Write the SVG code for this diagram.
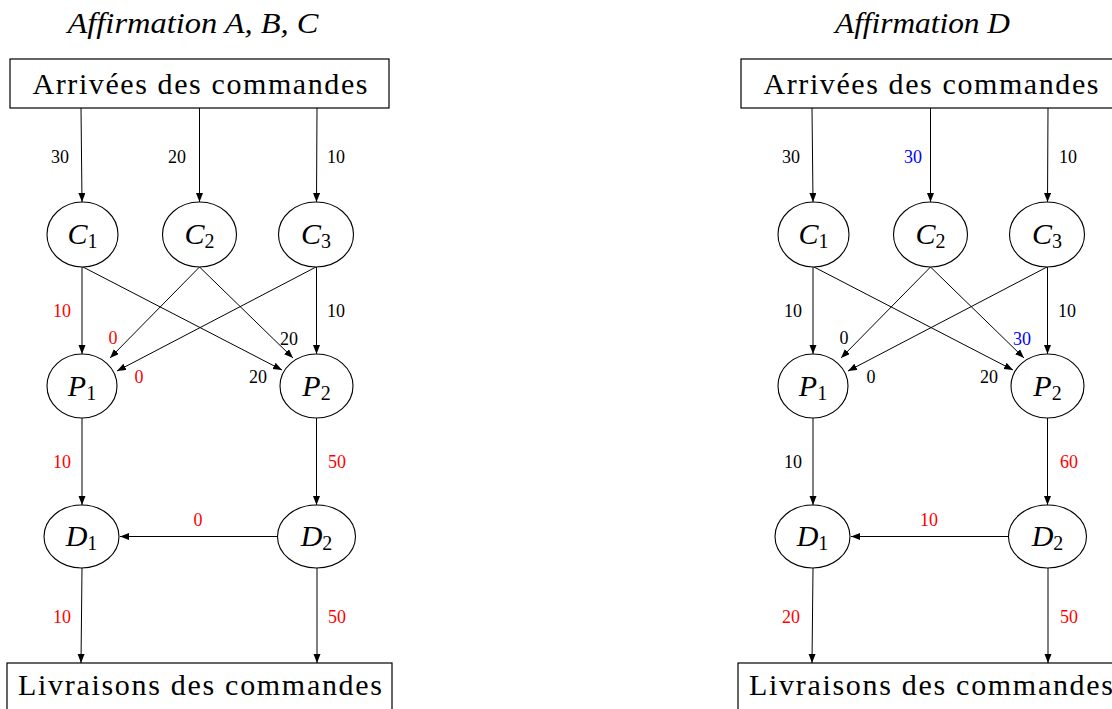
<svg xmlns="http://www.w3.org/2000/svg" width="1112" height="709" viewBox="0 0 1112 709">
<style>
.bg{fill:#fff}
.box{fill:#fff;stroke:#000;stroke-width:1.2}
.node{fill:#fff;stroke:#000;stroke-width:1.1}
.title{font-family:"Liberation Serif",serif;font-style:italic;font-size:30px;fill:#000;text-anchor:middle}
.btxt{font-family:"Liberation Serif",serif;font-size:30px;fill:#000;text-anchor:middle}
.ntxt{font-family:"Liberation Serif",serif;font-style:italic;font-size:30px;fill:#000;text-anchor:middle}
.sub{font-style:normal;font-size:20px}
.lbl{font-family:"Liberation Serif",serif;font-size:18px;fill:#000;text-anchor:middle}
.red{fill:#ff0000}
.blue{fill:#0000ff}
.edge line{stroke:#000;stroke-width:1;marker-end:url(#ah)}
</style>
<defs>
<marker id="ah" markerUnits="userSpaceOnUse" markerWidth="10" markerHeight="8" refX="9" refY="3.5" orient="auto">
<path d="M0,0 L9,3.5 L0,7 z" fill="#000"/>
</marker>
</defs>
<rect class="bg" x="0" y="0" width="1112" height="709"/>

<g id="left">
<text class="title" x="193" y="33" textLength="251" lengthAdjust="spacingAndGlyphs">Affirmation A, B, C</text>
<g id="L_arrivees"><rect class="box" x="10" y="59" width="379" height="49"/><text class="btxt" x="200" y="94" textLength="335" lengthAdjust="spacing">Arrivées des commandes</text></g>
<g id="L_edges" class="edge">
<line x1="81" y1="108" x2="82" y2="202"/>
<line x1="199.5" y1="108" x2="199.5" y2="202"/>
<line x1="317" y1="108" x2="316.5" y2="202"/>
<line x1="82" y1="267" x2="82" y2="354"/>
<line x1="83" y1="267" x2="282" y2="370"/>
<line x1="199.5" y1="267" x2="110" y2="358"/>
<line x1="199.5" y1="267" x2="293" y2="358"/>
<line x1="316" y1="267" x2="117" y2="371"/>
<line x1="316.5" y1="267" x2="316.5" y2="354"/>
<line x1="82" y1="418" x2="82" y2="505"/>
<line x1="316.5" y1="418" x2="316.5" y2="505"/>
<line x1="278" y1="536.5" x2="120" y2="536.5"/>
<line x1="82" y1="568" x2="81" y2="663"/>
<line x1="317" y1="568" x2="317" y2="663"/>
</g>
<g id="L_C1"><ellipse class="node" cx="82.5" cy="234.5" rx="35.5" ry="32.5"/><text class="ntxt" x="82.5" y="244">C<tspan class="sub" dy="4">1</tspan></text></g>
<g id="L_C2"><ellipse class="node" cx="199.5" cy="234.5" rx="37" ry="32.5"/><text class="ntxt" x="199.5" y="244">C<tspan class="sub" dy="4">2</tspan></text></g>
<g id="L_C3"><ellipse class="node" cx="316" cy="234.5" rx="37.5" ry="32.5"/><text class="ntxt" x="316" y="244">C<tspan class="sub" dy="4">3</tspan></text></g>
<g id="L_P1"><ellipse class="node" cx="82" cy="386" rx="35" ry="32"/><text class="ntxt" x="82" y="396">P<tspan class="sub" dy="4">1</tspan></text></g>
<g id="L_P2"><ellipse class="node" cx="316.5" cy="386" rx="36.5" ry="32"/><text class="ntxt" x="316.5" y="396">P<tspan class="sub" dy="4">2</tspan></text></g>
<g id="L_D1"><ellipse class="node" cx="81.5" cy="536.5" rx="37.5" ry="31.5"/><text class="ntxt" x="81.5" y="546">D<tspan class="sub" dy="4">1</tspan></text></g>
<g id="L_D2"><ellipse class="node" cx="316.5" cy="536.5" rx="39" ry="31.5"/><text class="ntxt" x="316.5" y="546">D<tspan class="sub" dy="4">2</tspan></text></g>
<g id="L_livraisons"><rect class="box" x="7" y="663" width="385" height="50"/><text class="btxt" x="200" y="695" textLength="364" lengthAdjust="spacing">Livraisons des commandes</text></g>
<g id="L_labels">
<text class="lbl" x="60" y="163">30</text>
<text class="lbl" x="177" y="163">20</text>
<text class="lbl" x="336" y="163">10</text>
<text class="lbl red" x="62" y="317">10</text>
<text class="lbl red" x="113" y="344">0</text>
<text class="lbl" x="289" y="345">20</text>
<text class="lbl" x="336" y="317">10</text>
<text class="lbl red" x="139" y="383">0</text>
<text class="lbl" x="258" y="383">20</text>
<text class="lbl red" x="62" y="468">10</text>
<text class="lbl red" x="337" y="468">50</text>
<text class="lbl red" x="198" y="526">0</text>
<text class="lbl red" x="62" y="623">10</text>
<text class="lbl red" x="337" y="623">50</text>
</g>
</g>

<g id="right" transform="translate(731,0)">
<text class="title" x="191.5" y="33" textLength="175" lengthAdjust="spacingAndGlyphs">Affirmation D</text>
<g id="R_arrivees"><rect class="box" x="10" y="59" width="379" height="49"/><text class="btxt" x="200" y="94" textLength="335" lengthAdjust="spacing">Arrivées des commandes</text></g>
<g id="R_edges" class="edge">
<line x1="81" y1="108" x2="82" y2="202"/>
<line x1="199.5" y1="108" x2="199.5" y2="202"/>
<line x1="317" y1="108" x2="316.5" y2="202"/>
<line x1="82" y1="267" x2="82" y2="354"/>
<line x1="83" y1="267" x2="282" y2="370"/>
<line x1="199.5" y1="267" x2="110" y2="358"/>
<line x1="199.5" y1="267" x2="293" y2="358"/>
<line x1="316" y1="267" x2="117" y2="371"/>
<line x1="316.5" y1="267" x2="316.5" y2="354"/>
<line x1="82" y1="418" x2="82" y2="505"/>
<line x1="316.5" y1="418" x2="316.5" y2="505"/>
<line x1="278" y1="536.5" x2="120" y2="536.5"/>
<line x1="82" y1="568" x2="81" y2="663"/>
<line x1="317" y1="568" x2="317" y2="663"/>
</g>
<g id="R_C1"><ellipse class="node" cx="82.5" cy="234.5" rx="35.5" ry="32.5"/><text class="ntxt" x="82.5" y="244">C<tspan class="sub" dy="4">1</tspan></text></g>
<g id="R_C2"><ellipse class="node" cx="199.5" cy="234.5" rx="37" ry="32.5"/><text class="ntxt" x="199.5" y="244">C<tspan class="sub" dy="4">2</tspan></text></g>
<g id="R_C3"><ellipse class="node" cx="316" cy="234.5" rx="37.5" ry="32.5"/><text class="ntxt" x="316" y="244">C<tspan class="sub" dy="4">3</tspan></text></g>
<g id="R_P1"><ellipse class="node" cx="82" cy="386" rx="35" ry="32"/><text class="ntxt" x="82" y="396">P<tspan class="sub" dy="4">1</tspan></text></g>
<g id="R_P2"><ellipse class="node" cx="316.5" cy="386" rx="36.5" ry="32"/><text class="ntxt" x="316.5" y="396">P<tspan class="sub" dy="4">2</tspan></text></g>
<g id="R_D1"><ellipse class="node" cx="81.5" cy="536.5" rx="37.5" ry="31.5"/><text class="ntxt" x="81.5" y="546">D<tspan class="sub" dy="4">1</tspan></text></g>
<g id="R_D2"><ellipse class="node" cx="316.5" cy="536.5" rx="39" ry="31.5"/><text class="ntxt" x="316.5" y="546">D<tspan class="sub" dy="4">2</tspan></text></g>
<g id="R_livraisons"><rect class="box" x="7" y="663" width="385" height="50"/><text class="btxt" x="200" y="695" textLength="364" lengthAdjust="spacing">Livraisons des commandes</text></g>
<g id="R_labels">
<text class="lbl" x="60" y="163">30</text>
<text class="lbl blue" x="182" y="163">30</text>
<text class="lbl" x="337" y="163">10</text>
<text class="lbl" x="62" y="317">10</text>
<text class="lbl" x="113" y="344">0</text>
<text class="lbl blue" x="291" y="345">30</text>
<text class="lbl" x="336" y="317">10</text>
<text class="lbl" x="140" y="383">0</text>
<text class="lbl" x="258" y="383">20</text>
<text class="lbl" x="62" y="468">10</text>
<text class="lbl red" x="338" y="468">60</text>
<text class="lbl red" x="198" y="526">10</text>
<text class="lbl red" x="60" y="623">20</text>
<text class="lbl red" x="338" y="623">50</text>
</g>
</g>
</svg>
